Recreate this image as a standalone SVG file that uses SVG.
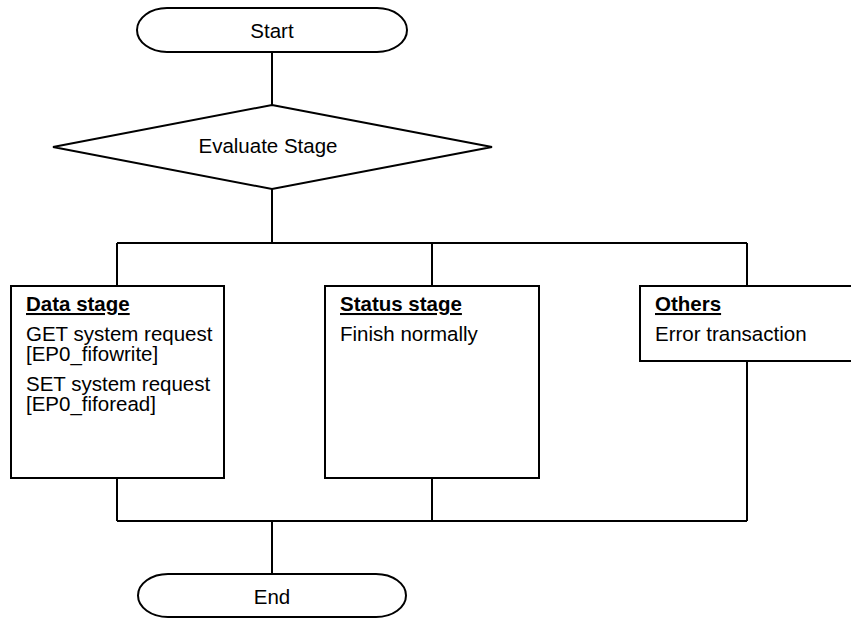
<svg xmlns="http://www.w3.org/2000/svg" width="851" height="619" viewBox="0 0 851 619">
<style>
.s{fill:#fff;stroke:#000;stroke-width:2}
.c{fill:none;stroke:#000;stroke-width:2}
text{font-family:"Liberation Sans",Arial,sans-serif;font-size:20.5px;fill:#000}
.h{font-weight:bold;text-decoration:underline}
.m{text-anchor:middle}
</style>
<rect width="851" height="619" fill="#fff"/>
<g id="connectors">
<path class="c" d="M272,52V105M272,189V243M117,243H747M117,243V286M432,243V286M747,243V286"/>
<path class="c" d="M117,478V521M432,478V521M747,361V521M117,521H747M272,521V574"/>
</g>
<g id="start">
<path class="s" d="M167,8H377A30,22 0 0 1 377,52H167A30,22 0 0 1 167,8Z"/>
<text class="m" x="272" y="38">Start</text>
</g>
<g id="evaluate">
<polygon class="s" points="272,105 492,147 272,189 53,147"/>
<text class="m" x="268" y="153">Evaluate Stage</text>
</g>
<g id="data">
<rect class="s" x="11" y="286" width="213" height="192"/>
<text class="h" x="26" y="311">Data stage</text>
<text x="26" y="341">GET system request<tspan x="26" dy="20">[EP0_fifowrite]</tspan></text>
<text x="26" y="391">SET system request<tspan x="26" dy="20">[EP0_fiforead]</tspan></text>
</g>
<g id="status">
<rect class="s" x="325" y="286" width="214" height="192"/>
<text class="h" x="340" y="311">Status stage</text>
<text x="340" y="341">Finish normally</text>
</g>
<g id="others">
<rect class="s" x="640" y="286" width="215" height="75"/>
<text class="h" x="655" y="311">Others</text>
<text x="655" y="341">Error transaction</text>
</g>
<g id="end">
<path class="s" d="M168,574H376A30,21.5 0 0 1 376,617H168A30,21.5 0 0 1 168,574Z"/>
<text class="m" x="272" y="604">End</text>
</g>
</svg>
